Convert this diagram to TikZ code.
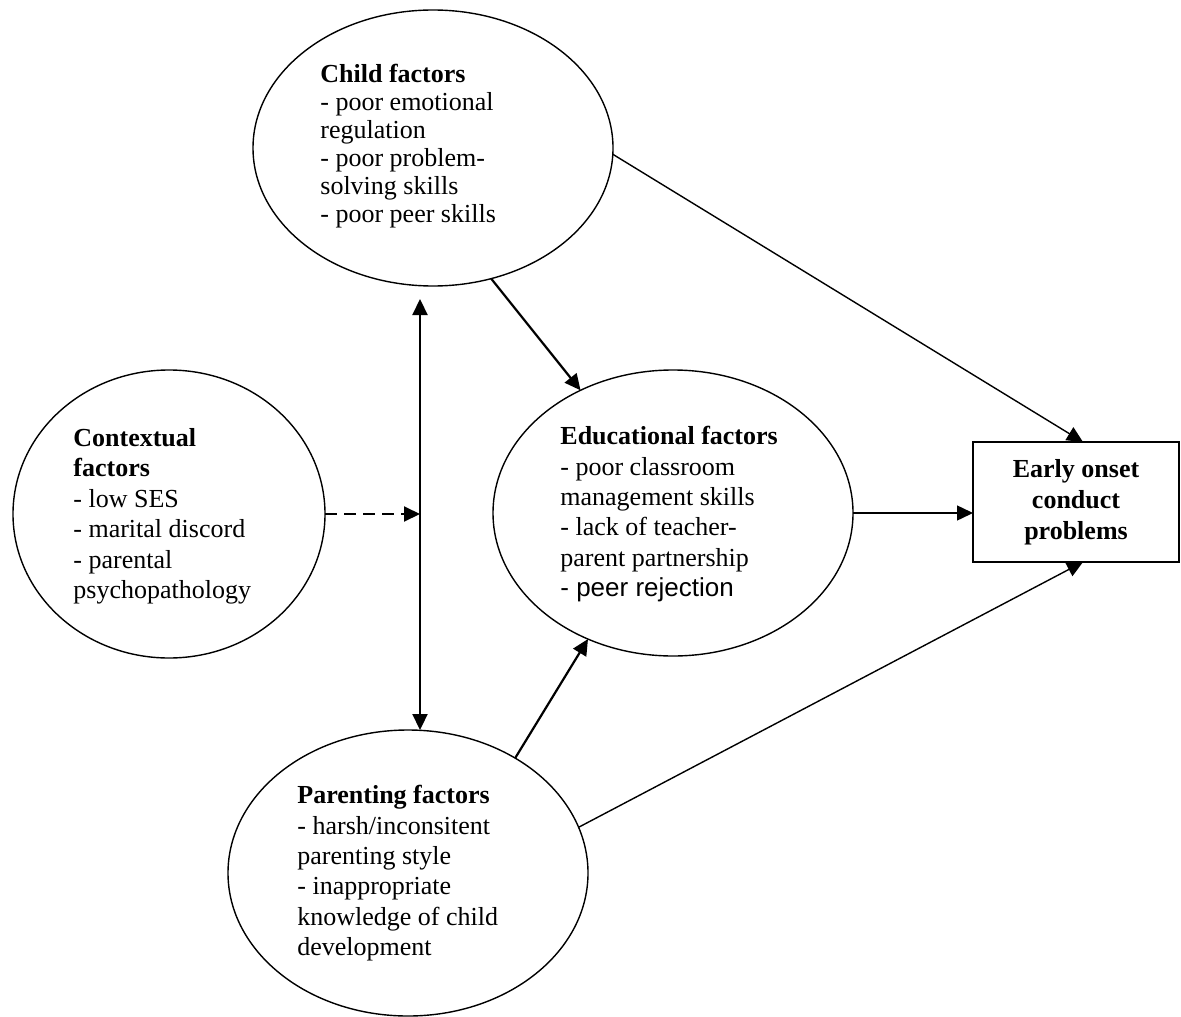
\documentclass[tikz,border=0pt]{standalone}
\usepackage{fontspec}
\setmainfont{Liberation Serif}
\newfontfamily\arialfont{Liberation Sans}
\usetikzlibrary{shapes.geometric,arrows.meta}

\begin{document}
\begin{tikzpicture}[x=0.5pt, y=-0.5pt, >={Triangle[length=8pt, width=7.5pt]},
      factor/.style = {shape=ellipse, draw, line width=0.7pt, inner sep=0pt, outer sep=0pt},
      txt/.style = {anchor=north west, inner sep=0pt, align=left, font=\fontsize{13}{15.2}\selectfont},
      outcome/.style = {draw, line width=0.9pt, inner sep=0pt, outer sep=0pt, minimum width=103pt, minimum height=60pt, align=center, font=\fontsize{13}{15.5}\selectfont\bfseries},
      link/.style = {line width=0.7pt, ->},
      thick link/.style = {line width=1.1pt, ->}]
      \useasboundingbox (0,0) rectangle (1181,1016);
      % the four groups of factors
      \node[factor, minimum width=180pt, minimum height=138pt] (child) at (433,148) {};
      \node[factor, minimum width=156pt, minimum height=144pt] (context) at (169,514) {};
      \node[factor, minimum width=180pt, minimum height=143pt] (edu) at (673,513) {};
      \node[factor, minimum width=180pt, minimum height=143pt] (parent) at (408,873) {};
      \node[outcome] (box) at (1076,502) {Early onset\\conduct\\problems};
      % texts
      \node[txt, font=\fontsize{13}{14}\selectfont] (childtxt) at (320,64)
        {\textbf{Child factors}\\- poor emotional\\regulation\\- poor problem-\\solving skills\\- poor peer skills};
      \node[txt] (contexttxt) at (73,428)
        {\textbf{Contextual}\\\textbf{factors}\\- low SES\\- marital discord\\- parental\\psychopathology};
      \node[txt] (edutxt) at (560,426)
        {\textbf{Educational factors}\\- poor classroom\\management skills\\- lack of teacher-\\parent partnership\\{\arialfont - peer rejection}};
      \node[txt] (parenttxt) at (297,785)
        {\textbf{Parenting factors}\\- harsh/inconsitent\\parenting style\\- inappropriate\\knowledge of child\\development};
      % links
      \coordinate (mid) at (420,514);
      \draw[thick link, <->, shorten <=6.5pt] (child.south -| mid) -- (parent.north -| mid);
      \draw[line width=1pt, ->, dash pattern=on 6pt off 3.5pt] (context.east) -- (mid);
      \draw[thick link] (child.-66) -- (edu.127);
      \draw[thick link] (parent.47) -- (edu.-124);
      \draw[link] (edu.east) -- (edu.east -| box.west);
      \draw[link] (child.-2) -- ([xshift=3.5pt]box.north);
      \draw[link] (parent.15) -- ([xshift=3.5pt]box.south);
    \end{tikzpicture}
\end{document}
